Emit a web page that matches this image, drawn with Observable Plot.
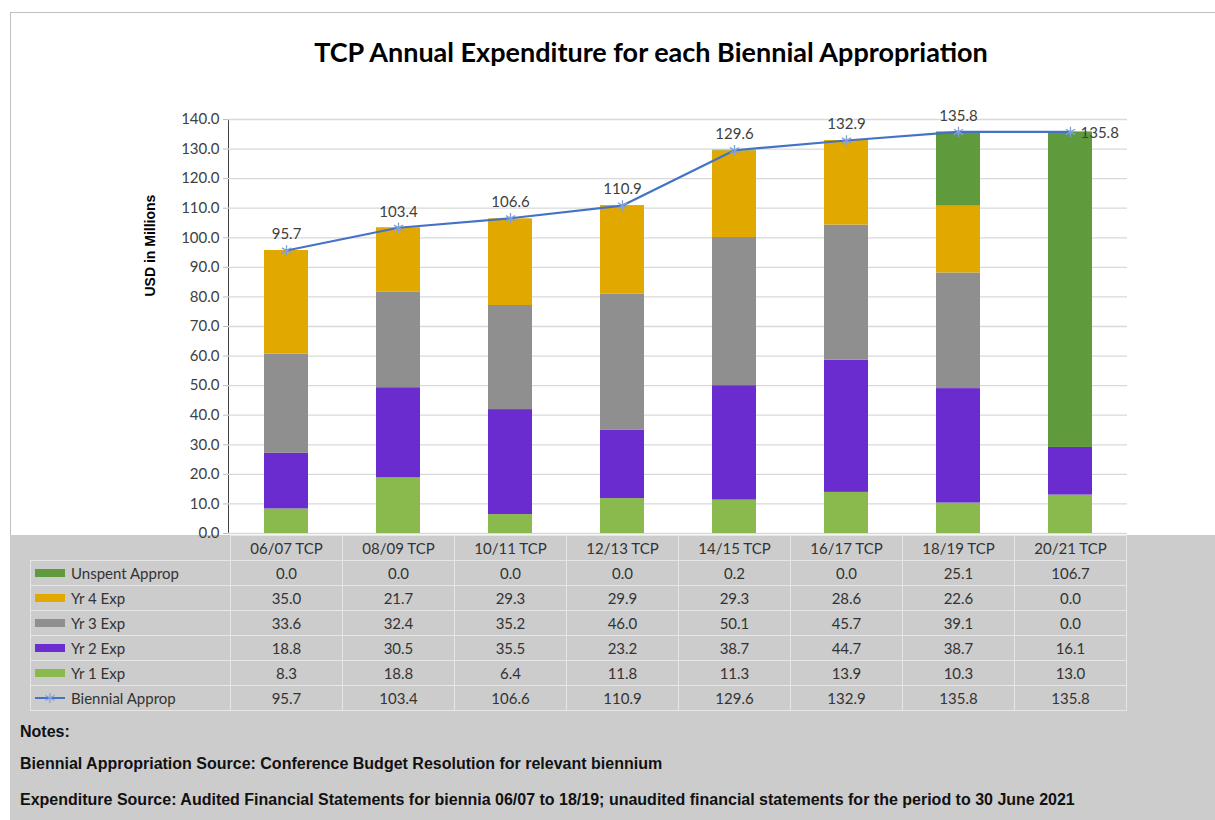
<!DOCTYPE html>
<html>
<head>
<meta charset="utf-8">
<script src="https://cdn.jsdelivr.net/npm/d3@7"></script>
<script src="https://cdn.jsdelivr.net/npm/@observablehq/plot@0.6"></script>
<style>
  html, body { margin: 0; padding: 0; background: #fff; }
  #chart { position: relative; width: 1215px; height: 820px; overflow: hidden; background: #fff; }
  #frame { position: absolute; left: 10px; top: 12px; width: 1210px; height: 820px; border-left: 1px solid #bfbfbf; border-top: 1px solid #bfbfbf; box-sizing: border-box; }
  #title { position: absolute; left: 0; top: 35px; width: 1302px; text-align: center; font-family: Lato, "Open Sans", sans-serif; font-weight: bold; font-size: 27px; color: #000; }
  #plot { position: absolute; left: 0; top: 95px; }
  #lower { position: absolute; left: 10px; top: 535px; width: 1205px; height: 290px; background: #cccccc; }
  .cell { position: absolute; box-sizing: border-box; border: 1px solid #e6e6e6; font-family: Lato, sans-serif; font-size: 15px; color: #333; display: flex; align-items: center; justify-content: center; }
  .lab { justify-content: flex-start; }
  .key { display: inline-block; width: 30px; height: 8px; margin: 0 6px 0 4px; }
  .note { position: absolute; left: 20px; font-family: "Liberation Sans", Arial, sans-serif; font-weight: bold; font-size: 16px; color: #111; white-space: nowrap; }
  #plot g[aria-label^="y-axis"] { color: #bfbfbf; }
  #plot g[aria-label^="y-axis"] text { fill: #404040; }
</style>
</head>
<body>
<div id="chart">
  <div id="frame"></div>
  <div id="lower"></div>
  <div id="title"></div>
  <div id="table"></div>
  <div id="plot"></div>
  <div id="notes"></div>
</div>
<script>
// ---- data ----
const categories = ["06/07 TCP", "08/09 TCP", "10/11 TCP", "12/13 TCP", "14/15 TCP", "16/17 TCP", "18/19 TCP", "20/21 TCP"];
const yr1Exp = [8.3, 18.8, 6.4, 11.8, 11.3, 13.9, 10.3, 13.0];
const yr2Exp = [18.8, 30.5, 35.5, 23.2, 38.7, 44.7, 38.7, 16.1];
const yr3Exp = [33.6, 32.4, 35.2, 46.0, 50.1, 45.7, 39.1, 0.0];
const yr4Exp = [35.0, 21.7, 29.3, 29.9, 29.3, 28.6, 22.6, 0.0];
const unspentApprop = [0.0, 0.0, 0.0, 0.0, 0.2, 0.0, 25.1, 106.7];
const biennialApprop = [95.7, 103.4, 106.6, 110.9, 129.6, 132.9, 135.8, 135.8];
const seriesNames = ["Yr 1 Exp", "Yr 2 Exp", "Yr 3 Exp", "Yr 4 Exp", "Unspent Approp"];
const lineName = "Biennial Approp";
const yTicks = [0, 10, 20, 30, 40, 50, 60, 70, 80, 90, 100, 110, 120, 130, 140];
const titleText = "TCP Annual Expenditure for each Biennial Appropriation";
const yLabel = "USD in Millions";
const notes = [
  "Notes:",
  "Biennial Appropriation Source: Conference Budget Resolution for relevant biennium",
  "Expenditure Source: Audited Financial Statements for biennia 06/07 to 18/19; unaudited financial statements for the period to 30 June 2021"
];

// ---- styles ----
const seriesColors = ["#8aba4e", "#6a2bcf", "#8f8f8f", "#e1a900", "#5f9a3c"];
const lineColor = "#4472c4";
const markerColor = "#7f9fd9";

const seriesValues = [yr1Exp, yr2Exp, yr3Exp, yr4Exp, unspentApprop];
const rows = [];
seriesNames.forEach((s, j) => categories.forEach((c, i) => rows.push({cat: c, series: s, value: seriesValues[j][i]})));
const lineData = categories.map((c, i) => ({cat: c, value: biennialApprop[i]}));

const plot = Plot.plot({
  width: 1215,
  height: 450,
  marginLeft: 228,
  marginRight: 88,
  marginTop: 24,
  marginBottom: 12,
  style: {fontFamily: "Lato, sans-serif", fontSize: "15px", background: "transparent", color: "#404040"},
  x: {type: "band", domain: categories, paddingInner: 0.61, paddingOuter: 0.305, axis: null},
  y: {domain: [0, 140], ticks: yTicks, tickFormat: d => d.toFixed(1), tickSize: 5, tickPadding: 4, label: null, line: true},
  color: {domain: seriesNames, range: seriesColors},
  marks: [
    Plot.ruleY(yTicks, {stroke: "#d9d9d9", strokeWidth: 1.3}),
    Plot.barY(rows, Plot.stackY({x: "cat", y: "value", fill: "series", order: seriesNames})),
    Plot.line(lineData, {x: "cat", y: "value", stroke: lineColor, strokeWidth: 2.2}),
    Plot.dot(lineData, {x: "cat", y: "value", symbol: "asterisk", stroke: markerColor, strokeWidth: 1.3, r: 5}),
    Plot.text(lineData.slice(0, 7), {x: "cat", y: "value", text: d => d.value.toFixed(1), dy: -16, fill: "#404040", fontSize: 15}),
    Plot.text(lineData.slice(7), {x: "cat", y: "value", text: d => d.value.toFixed(1), dx: 10, dy: 1, textAnchor: "start", fill: "#404040", fontSize: 15}),
    Plot.text([yLabel], {text: d => d, frameAnchor: "left", rotate: -90, dx: -78, dy: -30, fontWeight: "bold", fontFamily: "Liberation Sans, Arial, sans-serif", fontSize: 14, fill: "#000"})
  ]
});
plot.style.overflow = "visible";
document.getElementById("plot").appendChild(plot);
document.getElementById("title").textContent = titleText;

// ---- data table aligned to the x scale ----
const sx = plot.scale("x");
const step = sx.step, bw = sx.bandwidth;
const colLeft = c => sx.apply(c) - (step - bw) / 2;
const table = document.getElementById("table");
const top0 = 535, rowH = 25, labLeft = 30;
const firstCol = colLeft(categories[0]);
function cell(x, y, w, h, html, cls) {
  const d = document.createElement("div");
  d.className = "cell" + (cls ? " " + cls : "");
  Object.assign(d.style, {left: x + "px", top: y + "px", width: (w + 1) + "px", height: (h + 1) + "px"});
  d.innerHTML = html;
  table.appendChild(d);
}
categories.forEach(c => cell(colLeft(c), top0, step, rowH, c));
const tableRows = [
  {name: "Unspent Approp", values: unspentApprop, color: seriesColors[4]},
  {name: "Yr 4 Exp", values: yr4Exp, color: seriesColors[3]},
  {name: "Yr 3 Exp", values: yr3Exp, color: seriesColors[2]},
  {name: "Yr 2 Exp", values: yr2Exp, color: seriesColors[1]},
  {name: "Yr 1 Exp", values: yr1Exp, color: seriesColors[0]},
  {name: lineName, values: biennialApprop, line: true}
];
tableRows.forEach((r, k) => {
  const y = top0 + rowH * (k + 1);
  const key = r.line
    ? `<svg width="30" height="12" style="margin:0 6px 0 4px"><line x1="0" x2="30" y1="6" y2="6" stroke="${lineColor}" stroke-width="2"/><path d="M15,1V11M10.5,3.5L19.5,8.5M10.5,8.5L19.5,3.5" stroke="${markerColor}" stroke-width="1.2"/></svg>`
    : `<span class="key" style="background:${r.color}"></span>`;
  cell(labLeft, y, firstCol - labLeft, rowH, key + r.name, "lab");
  categories.forEach((c, i) => cell(colLeft(c), y, step, rowH, r.values[i].toFixed(1)));
});

// ---- notes ----
const notesDiv = document.getElementById("notes");
[723, 755, 791].forEach((t, i) => {
  const d = document.createElement("div");
  d.className = "note";
  d.style.top = t + "px";
  d.textContent = notes[i];
  notesDiv.appendChild(d);
});
</script>
</body>
</html>
